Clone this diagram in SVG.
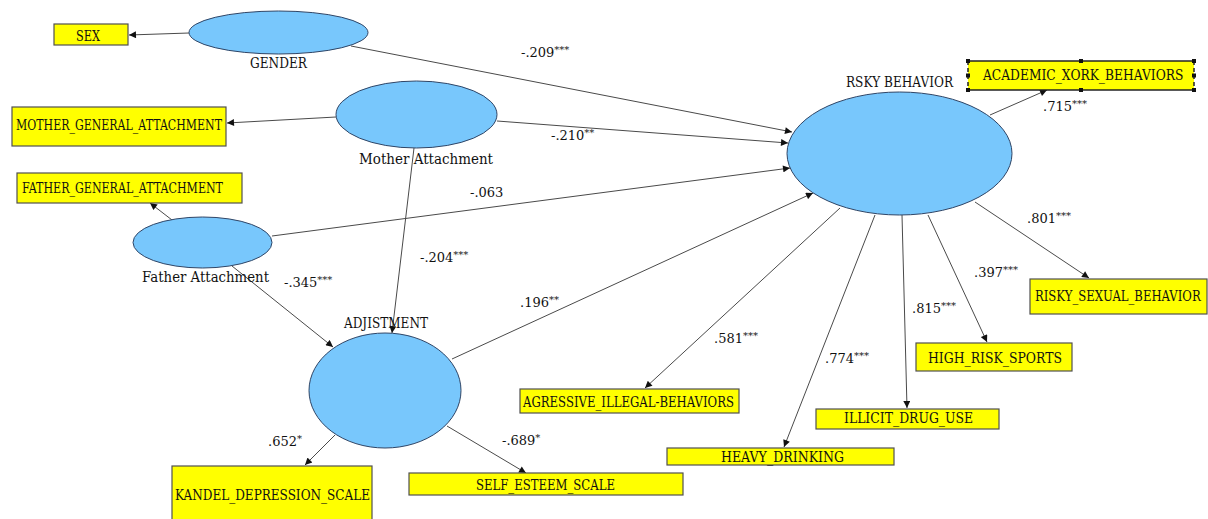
<svg xmlns="http://www.w3.org/2000/svg" width="1208" height="519" viewBox="0 0 1208 519">
<style>
.lv{fill:#78c7fc;stroke:#2f4566;stroke-width:1}
.mv{fill:#ffff00;stroke:#505050;stroke-width:1.2}
.t{font-family:"DejaVu Serif","Liberation Serif",serif;font-size:14px;fill:#111}
.el{font-family:"DejaVu Serif","Liberation Serif",serif;font-size:13px;fill:#111}
.e{stroke:#4a4a4a;stroke-width:1;fill:none;marker-end:url(#ah)}
.sup{font-size:10px}
.h{fill:#111}
</style>
<defs>
<marker id="ah" viewBox="0 0 10 10" refX="10" refY="5" markerWidth="9" markerHeight="7" markerUnits="userSpaceOnUse" orient="auto">
<path d="M0,0 L10,5 L0,10 z" fill="#111"/>
</marker>
</defs>
<rect width="1208" height="519" fill="#fff"/>

<g id="connectors">
<line class="e" x1="189" y1="33" x2="129" y2="35"/>
<line class="e" x1="336" y1="117" x2="227" y2="123"/>
<line class="e" x1="172" y1="220" x2="150" y2="203"/>
<line class="e" x1="351" y1="46" x2="792" y2="132"/>
<line class="e" x1="497" y1="121" x2="788" y2="143"/>
<line class="e" x1="272" y1="236" x2="790" y2="168"/>
<line class="e" x1="414" y1="148" x2="392" y2="333"/>
<line class="e" x1="232" y1="266" x2="333" y2="347"/>
<line class="e" x1="452" y1="359" x2="813" y2="193"/>
<line class="e" x1="335" y1="435" x2="305" y2="465"/>
<line class="e" x1="447" y1="426" x2="526" y2="473"/>
<line class="e" x1="990" y1="115" x2="1047" y2="90"/>
<line class="e" x1="975" y1="202" x2="1089" y2="278"/>
<line class="e" x1="928" y1="215" x2="987" y2="342"/>
<line class="e" x1="902" y1="215" x2="907" y2="408"/>
<line class="e" x1="875" y1="215" x2="784" y2="447"/>
<line class="e" x1="840" y1="208" x2="645" y2="388"/>
</g>

<g id="edge-labels" class="el">
<text x="521" y="57">-.209<tspan class="sup" dy="-4">***</tspan></text>
<text x="551" y="140">-.210<tspan class="sup" dy="-4">**</tspan></text>
<text x="470" y="197">-.063</text>
<text x="420" y="262">-.204<tspan class="sup" dy="-4">***</tspan></text>
<text x="284" y="287">-.345<tspan class="sup" dy="-4">***</tspan></text>
<text x="520" y="307">.196<tspan class="sup" dy="-4">**</tspan></text>
<text x="268" y="446">.652<tspan class="sup" dy="-4">*</tspan></text>
<text x="502" y="445">-.689<tspan class="sup" dy="-4">*</tspan></text>
<text x="1043" y="111">.715<tspan class="sup" dy="-4">***</tspan></text>
<text x="1027" y="223">.801<tspan class="sup" dy="-4">***</tspan></text>
<text x="974" y="277">.397<tspan class="sup" dy="-4">***</tspan></text>
<text x="912" y="313">.815<tspan class="sup" dy="-4">***</tspan></text>
<text x="825" y="363">.774<tspan class="sup" dy="-4">***</tspan></text>
<text x="714" y="343">.581<tspan class="sup" dy="-4">***</tspan></text>
</g>

<g id="gender">
<ellipse class="lv" cx="278.5" cy="32.5" rx="89.5" ry="21.5"/>
<text class="t" x="250" y="68" textLength="57" lengthAdjust="spacingAndGlyphs">GENDER</text>
</g>
<g id="sex">
<rect class="mv" x="54" y="24" width="74" height="21"/>
<text class="t" x="76" y="41" textLength="24" lengthAdjust="spacingAndGlyphs">SEX</text>
</g>
<g id="mother-attachment">
<ellipse class="lv" cx="416.5" cy="114.5" rx="80.5" ry="33.5"/>
<text class="t" x="359" y="164" textLength="134" lengthAdjust="spacingAndGlyphs">Mother Attachment</text>
</g>
<g id="mother-general-attachment">
<rect class="mv" x="12" y="107" width="214" height="39"/>
<text class="t" x="16" y="130" textLength="206" lengthAdjust="spacingAndGlyphs">MOTHER_GENERAL_ATTACHMENT</text>
</g>
<g id="father-general-attachment">
<rect class="mv" x="17" y="173" width="225" height="30"/>
<text class="t" x="22" y="193" textLength="201" lengthAdjust="spacingAndGlyphs">FATHER_GENERAL_ATTACHMENT</text>
</g>
<g id="father-attachment">
<ellipse class="lv" cx="202.5" cy="242.5" rx="69.5" ry="25.5"/>
<text class="t" x="142" y="282" textLength="127" lengthAdjust="spacingAndGlyphs">Father Attachment</text>
</g>
<g id="adjistment">
<ellipse class="lv" cx="385" cy="390.5" rx="76" ry="57.5"/>
<text class="t" x="344" y="328" textLength="84" lengthAdjust="spacingAndGlyphs">ADJISTMENT</text>
</g>
<g id="kandel">
<rect class="mv" x="172" y="466" width="200" height="58"/>
<text class="t" x="175" y="500" textLength="195" lengthAdjust="spacingAndGlyphs">KANDEL_DEPRESSION_SCALE</text>
</g>
<g id="self-esteem">
<rect class="mv" x="409" y="473" width="274" height="22"/>
<text class="t" x="476" y="490" textLength="139" lengthAdjust="spacingAndGlyphs">SELF_ESTEEM_SCALE</text>
</g>
<g id="risky-behavior">
<ellipse class="lv" cx="899.5" cy="153.5" rx="112.5" ry="61.5"/>
<text class="t" x="846" y="87" textLength="107" lengthAdjust="spacingAndGlyphs">RSKY BEHAVIOR</text>
</g>
<g id="academic">
<rect x="968" y="61" width="226" height="29" fill="#ffff00"/>
<line x1="968" y1="61" x2="1194" y2="61" stroke="#222" stroke-width="1.5"/>
<line x1="968" y1="90" x2="1194" y2="90" stroke="#222" stroke-width="1.5"/>
<line x1="968" y1="61" x2="968" y2="90" stroke="#222" stroke-width="1.5" stroke-dasharray="4,3"/>
<line x1="1194" y1="61" x2="1194" y2="90" stroke="#222" stroke-width="1.5" stroke-dasharray="4,3"/>
<rect class="h" x="966" y="59" width="4" height="4"/>
<rect class="h" x="1079" y="59" width="4" height="4"/>
<rect class="h" x="1192" y="59" width="4" height="4"/>
<rect class="h" x="966" y="73.5" width="4" height="4"/>
<rect class="h" x="1192" y="73.5" width="4" height="4"/>
<rect class="h" x="966" y="88" width="4" height="4"/>
<rect class="h" x="1079" y="88" width="4" height="4"/>
<rect class="h" x="1192" y="88" width="4" height="4"/>
<text class="t" transform="translate(983,80) scale(0.86,1)" x="0" y="0" textLength="233" lengthAdjust="spacingAndGlyphs">ACADEMIC_XORK_BEHAVIORS</text>
</g>
<g id="risky-sexual">
<rect class="mv" x="1030" y="279" width="177" height="35"/>
<text class="t" transform="translate(1035,301) scale(0.82,1)" x="0" y="0" textLength="202" lengthAdjust="spacingAndGlyphs">RISKY_SEXUAL_BEHAVIOR</text>
</g>
<g id="high-risk-sports">
<rect class="mv" x="916" y="343" width="156" height="28"/>
<text class="t" x="928" y="363" textLength="134" lengthAdjust="spacingAndGlyphs">HIGH_RISK_SPORTS</text>
</g>
<g id="illicit-drug">
<rect class="mv" x="816" y="409" width="183" height="20"/>
<text class="t" x="844" y="423" textLength="129" lengthAdjust="spacingAndGlyphs">ILLICIT_DRUG_USE</text>
</g>
<g id="heavy-drinking">
<rect class="mv" x="667" y="448" width="227" height="17"/>
<text class="t" x="721" y="462" textLength="123" lengthAdjust="spacingAndGlyphs">HEAVY_DRINKING</text>
</g>
<g id="agressive">
<rect class="mv" x="520" y="389" width="219" height="24"/>
<text class="t" x="523" y="407" textLength="211" lengthAdjust="spacingAndGlyphs">AGRESSIVE_ILLEGAL-BEHAVIORS</text>
</g>
</svg>
